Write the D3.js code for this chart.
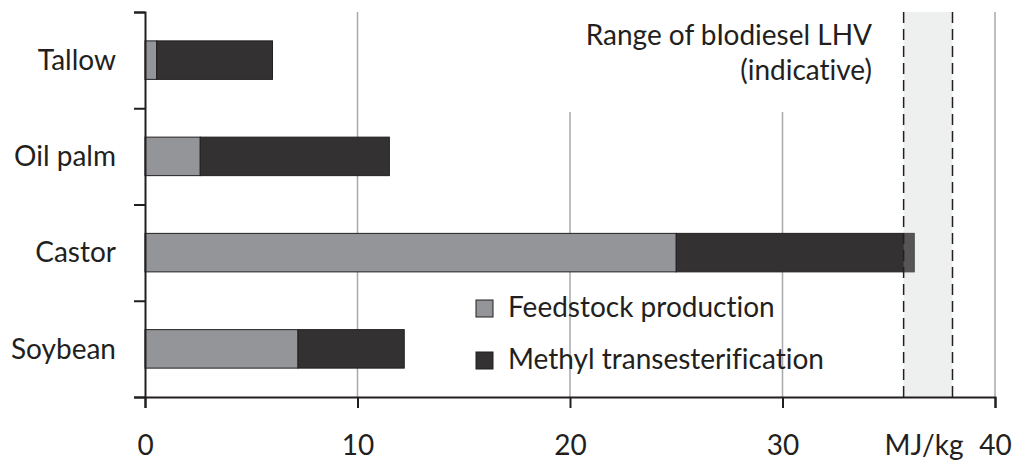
<!DOCTYPE html>
<html>
<head>
<meta charset="utf-8">
<script src="https://cdn.jsdelivr.net/npm/d3@7"></script>
<style>
  body { margin: 0; background: #fff; }
  text { font-family: Lato, "Open Sans", sans-serif; fill: #231f20; font-variant-ligatures: none; }
</style>
</head>
<body>
<script>
// data (MJ/kg)
const categories = ["Tallow", "Oil palm", "Castor", "Soybean"];
const feedstock = [0.55, 2.6, 25.0, 7.2];
const methyl = [5.45, 8.9, 11.2, 5.0];
const seriesNames = ["Feedstock production", "Methyl transesterification"];
const xTicks = [0, 10, 20, 30, 40];
const lhvRange = [35.7, 38.0];

const w = 1016;
const h = 463;
const colors = ["#939598", "#333132"];
const ink = "#231f20";
const fs = 28;

const svg = d3.select("body")
  .append("svg")
  .attr("width", w)
  .attr("height", h);

const x = d3.scaleLinear()
  .domain([0, 40])
  .range([145, 995]);

const y = d3.scaleBand()
  .domain(categories)
  .range([12, 397])
  .paddingInner(0.6)
  .paddingOuter(0.3);

// index scale for the category separator ticks
const yIdx = d3.scaleLinear()
  .domain([0, categories.length])
  .range([12, 397]);

// gridlines
svg.append("g")
  .selectAll("line")
  .data(xTicks.slice(1))
  .enter()
  .append("line")
  .attr("x1", (d) => x(d))
  .attr("x2", (d) => x(d))
  .attr("y1", 12)
  .attr("y2", 397)
  .attr("stroke", "#a7a9ac")
  .attr("stroke-width", 1.5);

// white box behind the range label
svg.append("rect")
  .attr("x", 540)
  .attr("y", 0)
  .attr("width", 350)
  .attr("height", 112)
  .attr("fill", "#fff");

const title = svg.append("text")
  .attr("text-anchor", "end")
  .attr("font-size", fs);
title.append("tspan").attr("x", 872).attr("y", 45).text("Range of bIodiesel LHV");
title.append("tspan").attr("x", 872).attr("y", 80).text("(indicative)");

// stacked bars
const stack = categories.map((c, i) => [
  { cat: c, x0: 0, x1: feedstock[i], s: 0 },
  { cat: c, x0: feedstock[i], x1: feedstock[i] + methyl[i], s: 1 }
]).flat();

svg.append("g")
  .selectAll("rect")
  .data(stack)
  .enter()
  .append("rect")
  .attr("x", (d) => x(d.x0))
  .attr("y", (d) => y(d.cat))
  .attr("width", (d) => x(d.x1) - x(d.x0))
  .attr("height", y.bandwidth())
  .attr("fill", (d) => colors[d.s])
  .attr("stroke", ink)
  .attr("stroke-width", 1);

// LHV range band, drawn over the bars
svg.append("rect")
  .attr("x", x(lhvRange[0]))
  .attr("y", 12)
  .attr("width", x(lhvRange[1]) - x(lhvRange[0]))
  .attr("height", 385)
  .attr("fill", "#bfc0c2")
  .attr("fill-opacity", 0.26);

svg.append("g")
  .selectAll("line")
  .data(lhvRange)
  .enter()
  .append("line")
  .attr("x1", (d) => x(d))
  .attr("x2", (d) => x(d))
  .attr("y1", 12)
  .attr("y2", 397)
  .attr("stroke", ink)
  .attr("stroke-width", 1.5)
  .attr("stroke-dasharray", "11,6");

// axes
const xAxis = d3.axisBottom(x)
  .tickValues(xTicks)
  .tickSize(11)
  .tickPadding(27);

const gx = svg.append("g")
  .attr("transform", "translate(0,397)")
  .call(xAxis);
gx.selectAll("text").attr("font-size", fs).attr("fill", ink).attr("font-family", null);

const yAxis = d3.axisLeft(yIdx)
  .tickValues(d3.range(categories.length + 1))
  .tickFormat("")
  .tickSize(11);

const gy = svg.append("g")
  .attr("transform", "translate(145,0)")
  .call(yAxis);

[gx, gy].forEach((g) => {
  g.select(".domain").attr("stroke", ink).attr("stroke-width", 2);
  g.selectAll(".tick line").attr("stroke", ink).attr("stroke-width", 2);
});

svg.append("g")
  .selectAll("text")
  .data(categories)
  .enter()
  .append("text")
  .attr("x", 116)
  .attr("y", (d) => y(d) + y.bandwidth() / 2)
  .attr("dy", "0.35em")
  .attr("text-anchor", "end")
  .attr("font-size", fs)
  .text((d) => d);

svg.append("text")
  .attr("x", 924)
  .attr("y", 455)
  .attr("text-anchor", "middle")
  .attr("font-size", fs)
  .text("MJ/kg");

// legend
const legend = svg.append("g")
  .selectAll("g")
  .data(seriesNames)
  .enter()
  .append("g")
  .attr("transform", (d, i) => "translate(476," + (300 + i * 52) + ")");

legend.append("rect")
  .attr("width", 17)
  .attr("height", 17)
  .attr("fill", (d, i) => colors[i])
  .attr("stroke", ink)
  .attr("stroke-width", 1);

legend.append("text")
  .attr("x", 32)
  .attr("y", 17)
  .attr("font-size", fs)
  .text((d) => d);
</script>
</body>
</html>
